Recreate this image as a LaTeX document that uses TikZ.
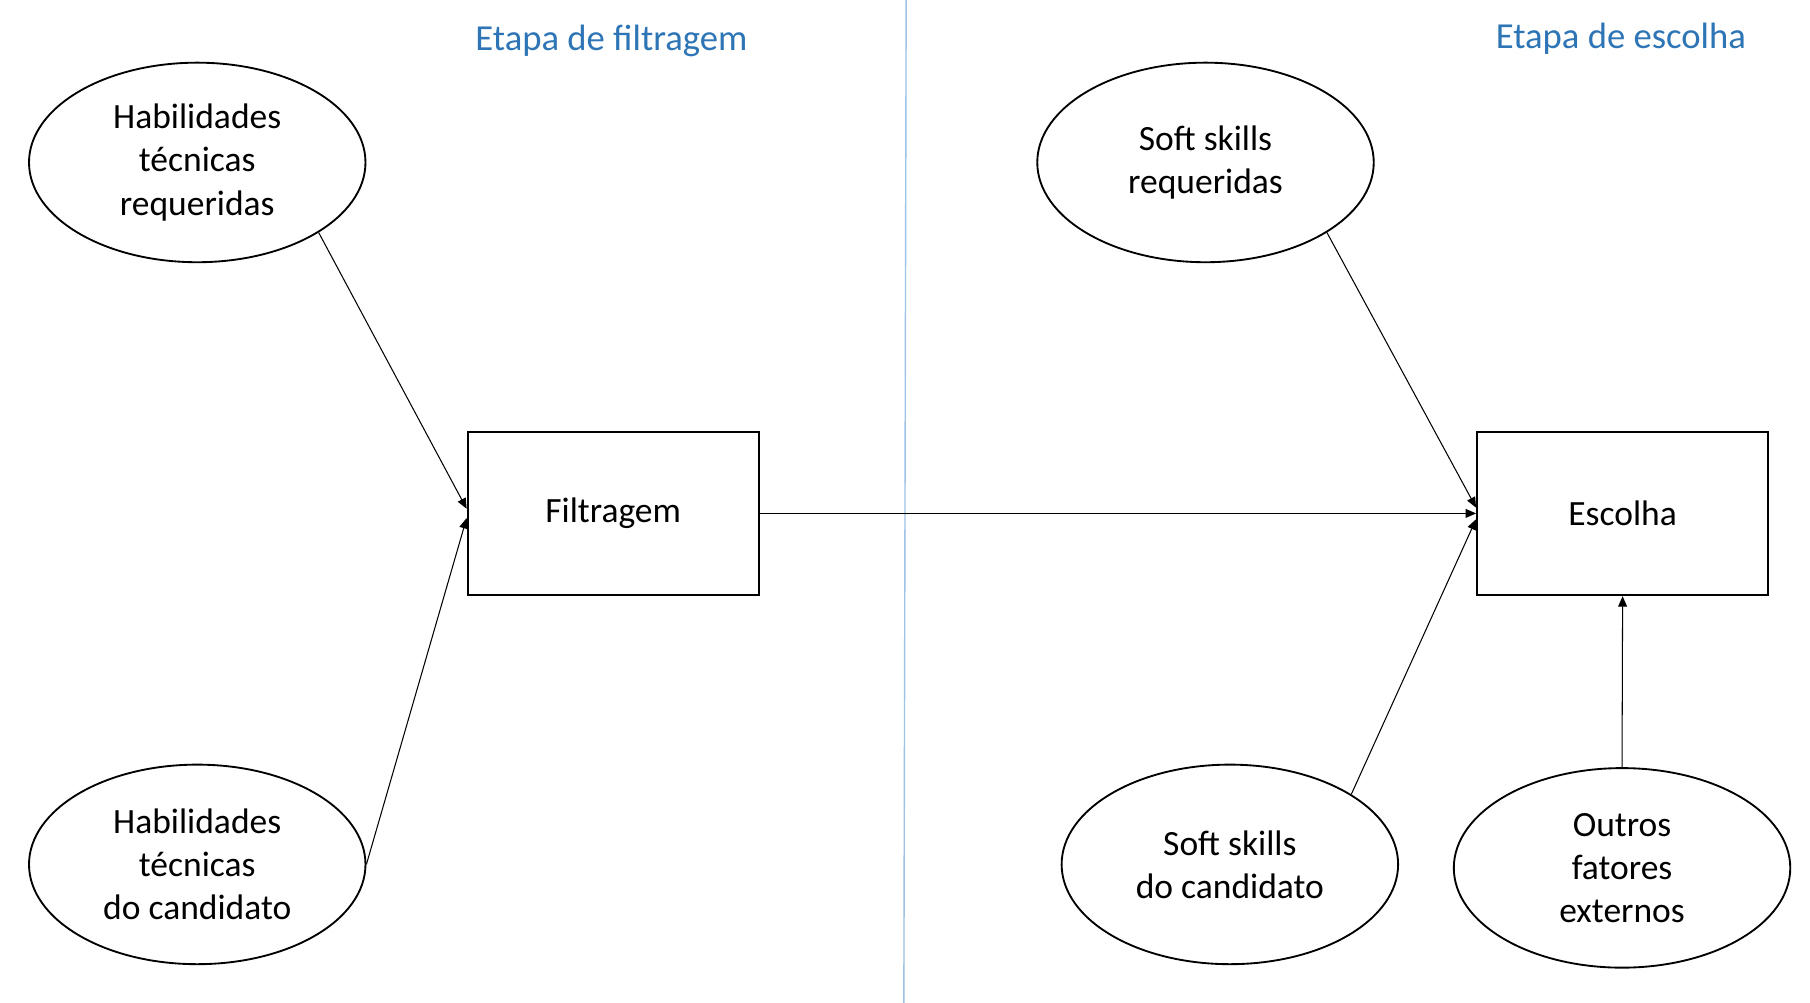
\documentclass[tikz,border=0pt]{standalone}
\usepackage{fontspec}
\setmainfont{Carlito}
\usetikzlibrary{shapes.geometric,arrows.meta,calc}
\definecolor{headblue}{RGB}{46,117,182}
\definecolor{divblue}{RGB}{157,195,230}
\begin{document}
\begin{tikzpicture}[x=0.5pt,y=-0.5pt,
  every node/.style={font=\fontsize{15.3pt}{18.6pt}\selectfont},
  oval/.style={ellipse,draw,line width=0.8pt,minimum width=145pt,minimum height=86pt,inner sep=0pt,align=center},
  stagebox/.style={rectangle,draw,line width=0.8pt,minimum width=125.5pt,minimum height=70.5pt,inner sep=0pt,align=center},
  heading/.style={text=headblue,font=\fontsize{15.8pt}{19pt}\selectfont},
  conn/.style={line width=0.45pt,-{Triangle[length=4.5pt,width=3.8pt]}}]
\useasboundingbox (0,0) rectangle (1560,864);
\fill[white] (0,0) rectangle (1560,864);
% divider
\coordinate (dtop) at (781,0);
\coordinate (dbot) at (779,868);
\draw[divblue,line width=0.6pt] (dtop) -- (dbot);
% headings
\node[heading] (h1) at (527,35) {Etapa de filtragem};
\node[heading] (h2) at (1397,33) {Etapa de escolha};
% nodes
\node[oval] (e1) at (170,140) {Habilidades\\técnicas\\requeridas};
\node[oval] (e2) at (170,745) {Habilidades\\técnicas\\do candidato};
\node[stagebox] (f) at (528.5,442.5) {Filtragem};
\node[stagebox] (c) at (1398.5,442.5) {Escolha};
\node[oval] (s1) at (1039,140) {Soft skills\\requeridas};
\node[oval] (s2) at (1060,745) {Soft skills\\do candidato};
\node[oval] (o) at (1398,748) {Outros\\fatores\\externos};
% connectors
\draw[conn] (e1.-30.6) -- ([yshift=2pt]f.west);
\draw[conn] (e2.east) -- ([yshift=-2pt]f.west);
\draw[conn] (f.east) -- (c.west);
\draw[conn] (s1.-30.6) -- ([yshift=2.5pt]c.west);
\draw[conn] (s2.30.6) -- ([yshift=-2.5pt]c.west);
\draw[conn] (o.north) -- (c.south);
\end{tikzpicture}
\end{document}
